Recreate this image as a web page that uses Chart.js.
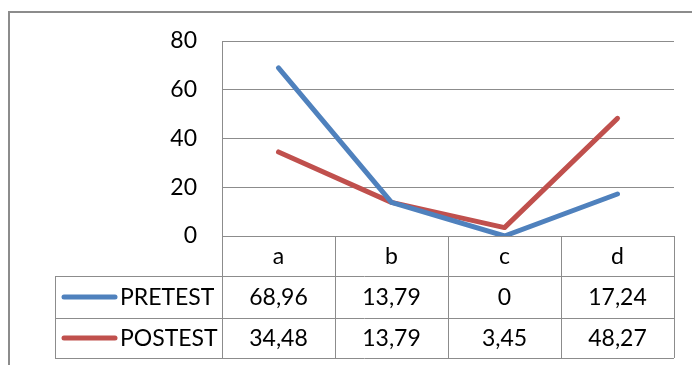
<!DOCTYPE html>
<html>
<head>
<meta charset="utf-8">
<script src="https://cdn.jsdelivr.net/npm/chart.js@4"></script>
<style>
  html, body { margin: 0; padding: 0; background: #ffffff; }
  #wrap { width: 692px; height: 365px; }
</style>
</head>
<body>
<div id="wrap"><canvas id="chart" width="692" height="365"></canvas></div>
<script>
const categories = ['a', 'b', 'c', 'd'];
const seriesNames = ['PRETEST', 'POSTEST'];
const pretest = [68.96, 13.79, 0, 17.24];
const posttest = [34.48, 13.79, 3.45, 48.27];
const yTicks = [0, 20, 40, 60, 80];

const seriesColors = ['#4F81BD', '#C0504D'];
const gridColor = '#8C8C8C';
const FONT = 'Lato, "Open Sans", sans-serif';
const FONT_SIZE = 23;

const fmt = v => String(v).replace('.', ',');

// Outer chart frame plus the data table under the plot
const frameAndTable = {
  id: 'frameAndTable',
  afterDraw(chart) {
    const ctx = chart.ctx;
    const x = chart.scales.x;
    const area = chart.chartArea;
    const band = x.getPixelForValue(1) - x.getPixelForValue(0);
    const colLeft = x.getPixelForValue(0) - band / 2;
    const colRight = x.getPixelForValue(categories.length - 1) + band / 2;
    const labelLeft = 55;
    const rowTops = [area.bottom, 276, 318, 358];

    ctx.save();
    ctx.strokeStyle = gridColor;

    // outer frame
    ctx.lineWidth = 2;
    ctx.beginPath();
    ctx.moveTo(9, 370);
    ctx.lineTo(9, 12);
    ctx.lineTo(700, 12);
    ctx.stroke();

    ctx.lineWidth = 1;
    // horizontal rules
    ctx.beginPath();
    ctx.moveTo(colLeft, Math.round(rowTops[0]) + 0.5);
    ctx.lineTo(colRight, Math.round(rowTops[0]) + 0.5);
    for (let r = 1; r < rowTops.length; r++) {
      ctx.moveTo(labelLeft, rowTops[r] + 0.5);
      ctx.lineTo(colRight, rowTops[r] + 0.5);
    }
    // vertical rules
    ctx.moveTo(labelLeft + 0.5, rowTops[1]);
    ctx.lineTo(labelLeft + 0.5, rowTops[3]);
    for (let i = 0; i <= categories.length; i++) {
      const px = Math.round(colLeft + i * band) + 0.5;
      ctx.moveTo(px, rowTops[0]);
      ctx.lineTo(px, rowTops[3]);
    }
    ctx.stroke();

    // text
    ctx.fillStyle = '#000000';
    ctx.font = FONT_SIZE + 'px ' + FONT;
    ctx.textBaseline = 'middle';
    ctx.textAlign = 'center';
    categories.forEach((c, i) => {
      ctx.fillText(c, x.getPixelForValue(i), (rowTops[0] + rowTops[1]) / 2 + 1);
    });
    const rows = [pretest, posttest];
    rows.forEach((vals, r) => {
      const cy = (rowTops[r + 1] + rowTops[r + 2]) / 2 + 1;
      ctx.textAlign = 'center';
      vals.forEach((v, i) => {
        ctx.fillText(fmt(v), x.getPixelForValue(i), cy);
      });
      // legend key
      ctx.save();
      ctx.strokeStyle = seriesColors[r];
      ctx.lineWidth = 5;
      ctx.lineCap = 'round';
      ctx.beginPath();
      ctx.moveTo(64, cy - 1);
      ctx.lineTo(115, cy - 1);
      ctx.stroke();
      ctx.restore();
      ctx.textAlign = 'left';
      ctx.fillText(seriesNames[r], 120, cy);
    });
    ctx.restore();
  }
};

new Chart(document.getElementById('chart'), {
  type: 'line',
  data: {
    labels: categories,
    datasets: [
      { label: seriesNames[0], data: pretest, borderColor: seriesColors[0] },
      { label: seriesNames[1], data: posttest, borderColor: seriesColors[1] }
    ].map(d => Object.assign(d, {
      borderWidth: 5,
      tension: 0,
      pointRadius: 0,
      pointHoverRadius: 0,
      borderCapStyle: 'round',
      borderJoinStyle: 'round',
      fill: false
    }))
  },
  options: {
    responsive: false,
    animation: false,
    devicePixelRatio: 1,
    layout: { padding: { top: 41, right: 18, bottom: 129, left: 0 } },
    plugins: { legend: { display: false }, tooltip: { enabled: false } },
    scales: {
      x: {
        offset: true,
        grid: { display: false, drawTicks: false },
        border: { display: false },
        ticks: { display: false }
      },
      y: {
        min: 0,
        max: 80,
        afterBuildTicks(scale) { scale.ticks = yTicks.map(v => ({ value: v })); },
        afterFit(scale) { scale.width = 222; },
        grid: { color: gridColor, lineWidth: 1, drawTicks: false },
        border: { display: true, color: gridColor, width: 1 },
        ticks: {
          padding: 25,
          color: '#000000',
          font: { family: FONT, size: FONT_SIZE }
        }
      }
    }
  },
  plugins: [frameAndTable]
});
</script>
</body>
</html>
